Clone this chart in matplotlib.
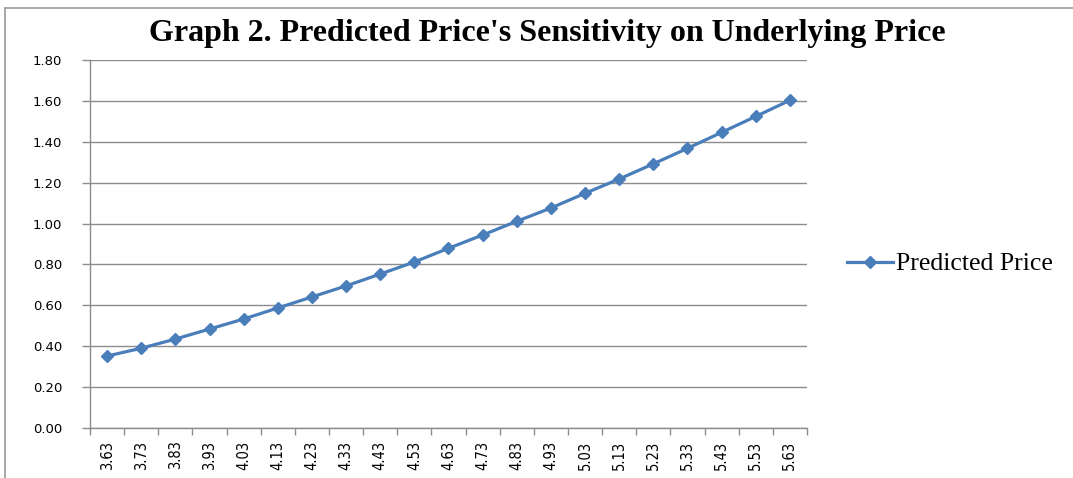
import matplotlib
matplotlib.use("Agg")
import matplotlib.pyplot as plt
from matplotlib.lines import Line2D

# data
underlying = ["3.63", "3.73", "3.83", "3.93", "4.03", "4.13", "4.23", "4.33",
              "4.43", "4.53", "4.63", "4.73", "4.83", "4.93", "5.03", "5.13",
              "5.23", "5.33", "5.43", "5.53", "5.63"]
predicted = [0.352, 0.390, 0.435, 0.484, 0.533, 0.587, 0.641, 0.695,
             0.753, 0.812, 0.879, 0.944, 1.011, 1.076, 1.148, 1.218,
             1.292, 1.368, 1.446, 1.524, 1.603]
y_ticks = [0.0, 0.2, 0.4, 0.6, 0.8, 1.0, 1.2, 1.4, 1.6, 1.8]

BLUE = "#4A7EBB"
GRID = "#8C8C8C"
W, H = 1073, 478

fig = plt.figure(figsize=(W / 100, H / 100), dpi=100)
ax = fig.add_axes([90 / W, 1 - 428 / H, (807 - 90) / W, (428 - 60) / H])

x = list(range(len(underlying)))
ax.plot(x, predicted, color=BLUE, linewidth=2.3, marker="D",
        markersize=6.5, markerfacecolor=BLUE, markeredgecolor=BLUE,
        label="Predicted Price", zorder=3)

ax.set_xlim(-0.5, len(underlying) - 0.5)
ax.set_ylim(0, 1.8)
ax.set_yticks(y_ticks)
ax.set_yticklabels([f"{v:.2f}" for v in y_ticks], fontsize=9.5,
                   family="DejaVu Sans")
ax.yaxis.grid(True, color=GRID, linewidth=1.0)
ax.set_axisbelow(True)

# category axis: ticks between categories, labels on categories
ax.set_xticks([i - 0.5 for i in range(len(underlying) + 1)])
ax.set_xticklabels([])
ax.set_xticks(x, minor=True)
ax.set_xticklabels(underlying, minor=True, rotation=90,
                   family="DejaVu Sans", fontstretch="condensed",
                   fontsize=10.5)
ax.tick_params(axis="x", which="minor", length=0, pad=9)
ax.tick_params(axis="x", which="major", length=5, color=GRID, width=1)
ax.tick_params(axis="y", length=6, color=GRID, width=1, pad=14)

for side in ("top", "right"):
    ax.spines[side].set_visible(False)
for side in ("left", "bottom"):
    ax.spines[side].set_color(GRID)
    ax.spines[side].set_linewidth(1.0)

fig.text(547 / W, 1 - 33 / H,
         "Graph 2. Predicted Price's Sensitivity on Underlying Price",
         ha="center", va="center", fontsize=23, fontweight="bold",
         family="Liberation Serif")

ax.legend(loc="center left", bbox_to_anchor=(834 / W, 1 - 264 / H),
          bbox_transform=fig.transFigure, frameon=False,
          prop={"family": "Liberation Serif", "size": 18.5},
          handlelength=1.8, handletextpad=0.1, borderpad=0)

# outer chart border (only top and left edges show in the crop)
fig.add_artist(Line2D([5 / W, 1], [1 - 8 / H, 1 - 8 / H],
                      transform=fig.transFigure, color="#A0A0A0", lw=1.3))
fig.add_artist(Line2D([5 / W, 5 / W], [0, 1 - 8 / H],
                      transform=fig.transFigure, color="#A0A0A0", lw=1.3))

fig.savefig("out.png", dpi=100)
